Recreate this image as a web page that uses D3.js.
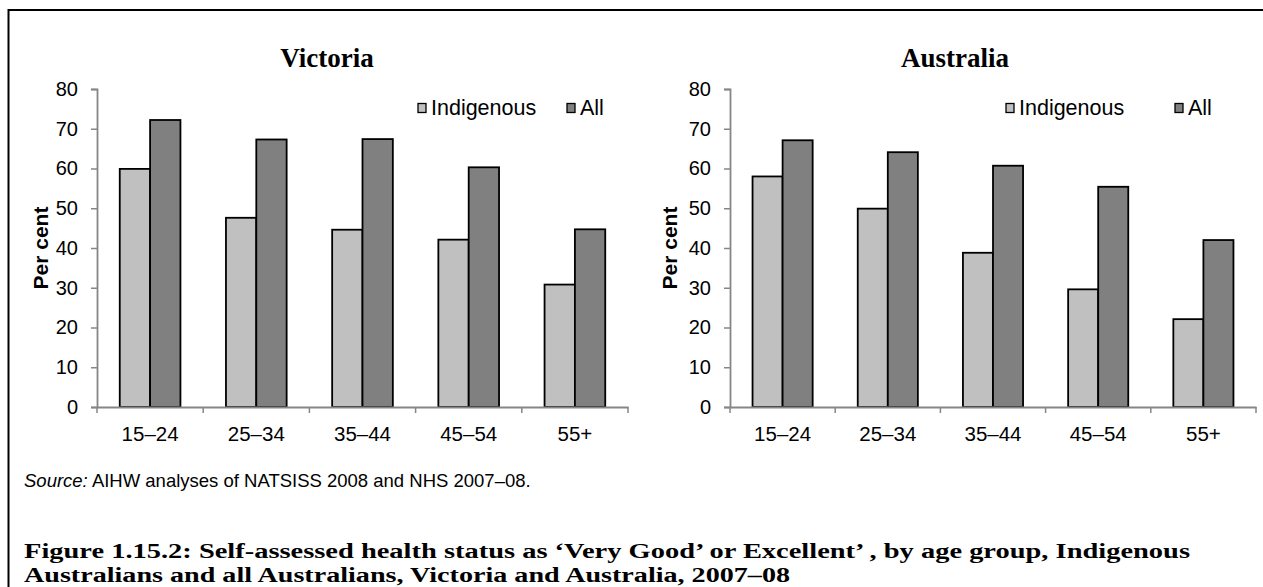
<!DOCTYPE html>
<html>
<head>
<meta charset="utf-8">
<script src="https://cdn.jsdelivr.net/npm/d3@7"></script>
<style>
  html, body { margin: 0; padding: 0; background: #fff; }
  svg { display: block; }
</style>
</head>
<body>
<svg id="chart" width="1263" height="587"></svg>
<script>
// ---------- data ----------
const categories = ["15–24", "25–34", "35–44", "45–54", "55+"];
const seriesNames = ["Indigenous", "All"];
const victoriaIndigenous = [59.9, 47.6, 44.6, 42.1, 30.8];
const victoriaAll = [72.2, 67.3, 67.4, 60.3, 44.7];
const australiaIndigenous = [58.0, 49.9, 38.8, 29.6, 22.1];
const australiaAll = [67.1, 64.1, 60.7, 55.4, 42.0];
const yTicks = [0, 10, 20, 30, 40, 50, 60, 70, 80];
const panelTitles = ["Victoria", "Australia"];
const yAxisLabel = "Per cent";
const sourceLabel = "Source:";
const sourceText = " AIHW analyses of NATSISS 2008 and NHS 2007–08.";
const captionLines = [
  "Figure 1.15.2: Self-assessed health status as ‘Very Good’ or Excellent’ , by age group, Indigenous",
  "Australians and all Australians, Victoria and Australia, 2007–08"
];

// ---------- style ----------
const colors = { Indigenous: "#c0c0c0", All: "#808080" };
const axisColor = "#868686";
const sans = "'Liberation Sans', Arial, sans-serif";
const serif = "'Liberation Serif', 'Times New Roman', serif";

const svg = d3.select("#chart");

// outer frame
svg.append("rect")
  .attr("x", 8.5).attr("y", 10)
  .attr("width", 1270).attr("height", 600)
  .attr("fill", "none").attr("stroke", "#000").attr("stroke-width", 2);

const panels = [
  { title: panelTitles[0], ind: victoriaIndigenous, all: victoriaAll,
    x0: 97, x1: 628, titleX: 327, ylabX: 41, legX: [418, 567] },
  { title: panelTitles[1], ind: australiaIndigenous, all: australiaAll,
    x0: 730, x1: 1256, titleX: 955, ylabX: 670, legX: [1006, 1175] }
];

const yTop = 89, yBottom = 407;

panels.forEach(p => {
  const g = svg.append("g");
  const x = d3.scaleBand().domain(categories).range([p.x0, p.x1]).paddingInner(0).paddingOuter(0);
  const xs = d3.scaleBand().domain(seriesNames).range([0, x.bandwidth()]).paddingInner(0).paddingOuter(0.75);
  const y = d3.scaleLinear().domain([0, 80]).range([yBottom, yTop]);

  // title
  g.append("text")
    .attr("x", p.titleX).attr("y", 67)
    .attr("text-anchor", "middle")
    .attr("font-family", serif).attr("font-weight", "bold").attr("font-size", 27)
    .attr("fill", "#000")
    .text(p.title);

  // bars
  const rows = categories.map((c, i) => ({ cat: c, Indigenous: p.ind[i], All: p.all[i] }));
  const grp = g.selectAll("g.cat").data(rows).join("g")
    .attr("transform", d => `translate(${x(d.cat)},0)`);
  grp.selectAll("rect").data(d => seriesNames.map(s => ({ s, v: d[s] }))).join("rect")
    .attr("x", d => xs(d.s))
    .attr("y", d => y(d.v))
    .attr("width", xs.bandwidth())
    .attr("height", d => y(0) - y(d.v))
    .attr("fill", d => colors[d.s])
    .attr("stroke", "#000").attr("stroke-width", 1.8);

  // y axis
  const yAxis = g.append("g").attr("transform", `translate(${p.x0},0)`)
    .call(d3.axisLeft(y).tickValues(yTicks).tickSize(6).tickPadding(13).tickFormat(d3.format("d")));
  yAxis.select(".domain").attr("stroke", axisColor).attr("stroke-width", 1.8);
  yAxis.selectAll(".tick line").attr("stroke", axisColor).attr("stroke-width", 1.5);
  yAxis.selectAll(".tick text").attr("font-family", sans).attr("font-size", 20).attr("fill", "#000");

  // x axis
  const xAxis = g.append("g").attr("transform", `translate(0,${yBottom})`)
    .call(d3.axisBottom(x).tickSize(0).tickPadding(19));
  xAxis.select(".domain").attr("stroke", axisColor).attr("stroke-width", 1.8);
  xAxis.selectAll(".tick line").remove();
  xAxis.selectAll(".tick text").attr("font-family", sans).attr("font-size", 20.5).attr("fill", "#000")
    .attr("dy", "0.71em");
  // boundary ticks between categories
  const bounds = categories.map(c => x(c)).concat([x(categories[categories.length - 1]) + x.bandwidth()]);
  xAxis.selectAll("line.bt").data(bounds).join("line")
    .attr("class", "bt")
    .attr("x1", d => d).attr("x2", d => d)
    .attr("y1", 0).attr("y2", 6)
    .attr("stroke", axisColor).attr("stroke-width", 1.5);

  // y label
  g.append("text")
    .attr("transform", `translate(${p.ylabX + 7},${(yTop + yBottom) / 2}) rotate(-90)`)
    .attr("text-anchor", "middle")
    .attr("font-family", sans).attr("font-weight", "bold").attr("font-size", 21)
    .attr("fill", "#000")
    .text(yAxisLabel);

  // legend
  seriesNames.forEach((s, i) => {
    g.append("rect")
      .attr("x", p.legX[i]).attr("y", 103.5)
      .attr("width", 8).attr("height", 9)
      .attr("fill", colors[s]).attr("stroke", "#000").attr("stroke-width", 1.3);
    g.append("text")
      .attr("x", p.legX[i] + 13).attr("y", 114.5)
      .attr("font-family", sans).attr("font-size", 21.5).attr("fill", "#000")
      .text(s);
  });
});

// source
const src = svg.append("text")
  .attr("x", 24).attr("y", 487)
  .attr("font-family", sans).attr("font-size", 18.5).attr("fill", "#000");
src.append("tspan").attr("font-style", "italic").text(sourceLabel);
src.append("tspan").text(sourceText);

// caption
const capWidths = [1166, 766];
svg.selectAll("text.cap").data(captionLines).join("text")
  .attr("class", "cap")
  .attr("x", 24).attr("y", (d, i) => 558 + i * 24)
  .attr("font-family", serif).attr("font-weight", "bold").attr("font-size", 20.5)
  .attr("textLength", (d, i) => capWidths[i])
  .attr("lengthAdjust", "spacingAndGlyphs")
  .attr("fill", "#000")
  .text(d => d);
</script>
</body>
</html>
